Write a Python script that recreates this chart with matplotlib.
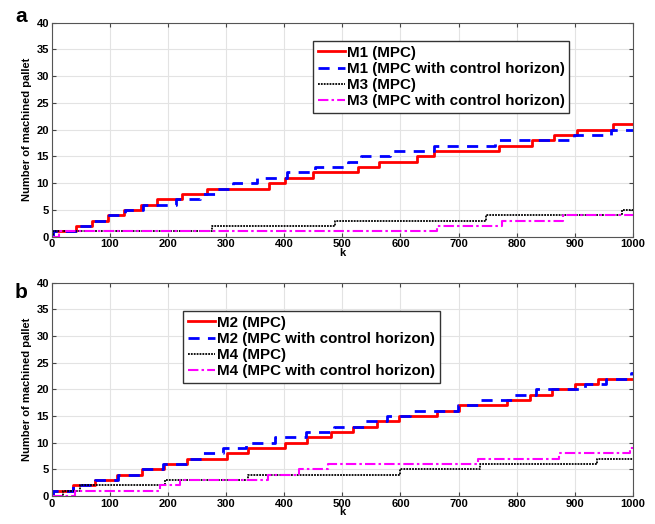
import matplotlib
matplotlib.use("Agg")
import matplotlib.pyplot as plt

plt.rcParams['font.family'] = ['Liberation Sans', 'DejaVu Sans']
plt.rcParams['font.weight'] = 'bold'

K_END = 1000

# Panel a
m1_mpc_k = [0, 2, 42, 70, 97, 124, 153, 181, 225, 267, 373, 402, 449, 527, 563, 629, 658, 769, 827, 864, 903, 966]
m1_mpc_v = [0, 1, 2, 3, 4, 5, 6, 7, 8, 9, 10, 11, 12, 13, 14, 15, 16, 17, 18, 19, 20, 21]
m1_ch_k = [0, 2, 43, 71, 99, 126, 157, 214, 256, 283, 312, 353, 405, 453, 510, 532, 582, 658, 762, 899, 962]
m1_ch_v = [0, 1, 2, 3, 4, 5, 6, 7, 8, 9, 10, 11, 12, 13, 14, 15, 16, 17, 18, 19, 20]
m3_mpc_k = [0, 2, 276, 487, 747, 981]
m3_mpc_v = [0, 1, 2, 3, 4, 5]
m3_ch_k = [0, 12, 663, 775, 880]
m3_ch_v = [0, 1, 2, 3, 4]

# Panel b
m2_mpc_k = [0, 2, 37, 74, 113, 155, 194, 232, 302, 338, 402, 440, 480, 519, 559, 598, 663, 700, 784, 822, 861, 900, 939]
m2_mpc_v = [0, 1, 2, 3, 4, 5, 6, 7, 8, 9, 10, 11, 12, 13, 14, 15, 16, 17, 18, 19, 20, 21, 22]
m2_ch_k = [0, 2, 36, 74, 114, 153, 192, 232, 258, 295, 334, 385, 437, 486, 538, 576, 616, 699, 733, 796, 833, 917, 954, 997]
m2_ch_v = [0, 1, 2, 3, 4, 5, 6, 7, 8, 9, 10, 11, 12, 13, 14, 15, 16, 17, 18, 19, 20, 21, 22, 23]
m4_mpc_k = [0, 20, 49, 195, 338, 599, 736, 938]
m4_mpc_v = [0, 1, 2, 3, 4, 5, 6, 7]
m4_ch_k = [0, 40, 186, 221, 372, 425, 475, 733, 873, 994]
m4_ch_v = [0, 1, 2, 3, 4, 5, 6, 7, 8, 9]

labels_a = ['M1 (MPC)', 'M1 (MPC with control horizon)', 'M3 (MPC)', 'M3 (MPC with control horizon)']
labels_b = ['M2 (MPC)', 'M2 (MPC with control horizon)', 'M4 (MPC)', 'M4 (MPC with control horizon)']

xticks = list(range(0, 1001, 100))
yticks = list(range(0, 41, 5))

styles = [
    dict(color='#ff0000', linestyle='-', linewidth=2.0),
    dict(color='#0000ff', linestyle=(0, (4, 3)), linewidth=2.0),
    dict(color='#000000', linestyle=(0, (1, 0.6)), linewidth=1.3),
    dict(color='#ff00ff', linestyle=(0, (5, 1.5, 1.2, 1.5)), linewidth=1.5),
]


def ext(k, v):
    return list(k) + [K_END], list(v) + [v[-1]]


fig = plt.figure(figsize=(6.55, 5.24), dpi=100)
ax_a = fig.add_axes([0.0789, 0.5483, 0.8875, 0.4084])
ax_b = fig.add_axes([0.0789, 0.0534, 0.8875, 0.4071])


def setup(ax, series, labels, legend_bbox):
    for (k, v), st, lab in zip(series, styles, labels):
        kk, vv = ext(k, v)
        ax.step(kk, vv, where='post', label=lab, **st)
    ax.set_xlim(0, 1000)
    ax.set_ylim(0, 40)
    ax.set_xticks(xticks)
    ax.set_yticks(yticks)
    ax.tick_params(direction='in', top=True, right=True, labelsize=8, length=3,
                   color='#444444', pad=2)
    for lab in ax.get_xticklabels() + ax.get_yticklabels():
        lab.set_fontweight('bold')
    ax.grid(True, color='#e3e3e3', linewidth=0.8)
    ax.set_axisbelow(True)
    for sp in ax.spines.values():
        sp.set_color('#555555')
        sp.set_linewidth(0.8)
    ax.set_xlabel('k', fontsize=8, fontweight='bold', labelpad=-1)
    ax.set_ylabel('Number of machined pallet', fontsize=8, fontweight='bold', labelpad=3)
    leg = ax.legend(loc='upper left', bbox_to_anchor=legend_bbox, bbox_transform=fig.transFigure,
                    prop=dict(size=10.9, weight='bold'), handlelength=1.8, handletextpad=0.15,
                    labelspacing=0.15, borderpad=0.3, borderaxespad=0, fancybox=False,
                    framealpha=1, edgecolor='#333333')
    leg.get_frame().set_linewidth(1.0)


setup(ax_a, [(m1_mpc_k, m1_mpc_v), (m1_ch_k, m1_ch_v), (m3_mpc_k, m3_mpc_v), (m3_ch_k, m3_ch_v)],
      labels_a, (313 / 655, 1 - 41 / 524))
setup(ax_b, [(m2_mpc_k, m2_mpc_v), (m2_ch_k, m2_ch_v), (m4_mpc_k, m4_mpc_v), (m4_ch_k, m4_ch_v)],
      labels_b, (183 / 655, 1 - 311 / 524))

fig.text(21 / 655, 1 - 17 / 524, 'a', fontsize=15, fontweight='bold', ha='center', va='center')
fig.text(21 / 655, 1 - 292 / 524, 'b', fontsize=15, fontweight='bold', ha='center', va='center')

fig.savefig('out.png', dpi=100)
